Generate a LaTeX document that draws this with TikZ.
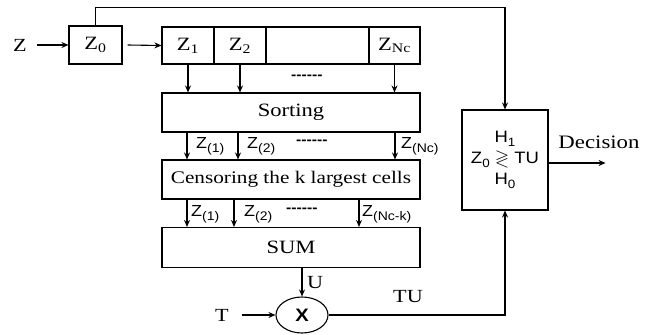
\documentclass[tikz,border=0pt]{standalone}
\usepackage{amssymb}
\usepackage{fontspec}
\setmainfont{Liberation Serif}[FakeStretch=1.2]
\newfontfamily\sff{Liberation Sans}[FakeStretch=1.12]
\usetikzlibrary{arrows.meta,shapes.geometric}
\newcommand{\lsub}[1]{\raisebox{-4pt}{\fontsize{12.5}{13}\selectfont #1}}
\newcommand{\hsub}[1]{\raisebox{-3.5pt}{\fontsize{12}{13}\selectfont #1}}
\tikzset{
  box/.style={draw, line width=1.1pt, inner sep=0pt, font=\fontsize{18.8}{20}\selectfont},
  cell/.style={box, minimum height=37pt},
  wide/.style={box, minimum width=258pt, minimum height=39pt},
  lab/.style={inner sep=1pt, font=\sff\fontsize{16}{18}\selectfont, anchor=west},
  dsh/.style={inner sep=1pt, font=\sff\bfseries\fontsize{14}{16}\selectfont, anchor=west},
  txt/.style={inner sep=1pt, font=\fontsize{18.5}{20}\selectfont},
  arr/.style={line width=1.1pt, -{Stealth[length=7pt,width=6pt]}},
  ln/.style={line width=1.1pt},
}
\begin{document}
\begin{tikzpicture}[x=1pt,y=-1pt]
\useasboundingbox (0,0) rectangle (657,335);
% input and Z0
\node[txt] (zin) at (20,45) {Z};
\node[cell, minimum width=53pt, minimum height=38pt] (z0) at (95.5,45) {Z\textsubscript{0}};
% register cells
\node[cell, minimum width=52pt] (c1) at (188,45.5) {Z\textsubscript{1}};
\node[cell, minimum width=52pt] (c2) at (240,45.5) {Z\textsubscript{2}};
\node[cell, minimum width=103pt] (c3) at (317.5,45.5) {};
\node[cell, minimum width=51pt] (c4) at (394.5,45.5) {Z\textsubscript{Nc}};
% blocks
\node[wide] (sort) at (291,112.5) {Sorting};
\node[wide, font=\fontsize{17.7}{19}\selectfont] (cens) at (291,179.5) {Censoring the k largest cells};
\node[wide, minimum height=40pt] (sum) at (291,247.5) {SUM};
% multiplier
\node[draw, ln, ellipse, minimum width=52pt, minimum height=36pt, inner sep=0pt,
      font=\sff\bfseries\fontsize{18}{19}\selectfont] (xn) at (302,315) {X};
\node[txt] (tin) at (222,315) {T};
% decision box
\node[box, minimum width=86pt, minimum height=100pt, align=center,
      font=\sff\fontsize{16.5}{21}\selectfont] (hb) at (505,160)
      {H\hsub{1}\\ Z\hsub{0} \smash{\fontsize{18.5}{18.5}\selectfont$\gtrless$} TU\\ H\hsub{0}};
% connectors
\draw[arr] (zin.east) ++(9,0) -- (z0.west);
\draw[arr] (z0.east) ++(5,0) -- (c1.west);
\draw[arr] (z0.north) -- ++(0,-18) -| (hb.north);
\draw[arr] (c1.south) -- (c1.south |- sort.north);
\draw[arr] (c2.south) -- (c2.south |- sort.north);
\draw[arr] (c4.south) -- (c4.south |- sort.north);
\node[dsh] (d1) at (290,77) {------};
% sorting -> censoring
\coordinate (s1) at (187,0);
\coordinate (s2) at (238,0);
\coordinate (s3) at (395,0);
\draw[arr] (s1 |- sort.south) -- (s1 |- cens.north);
\draw[arr] (s2 |- sort.south) -- (s2 |- cens.north);
\draw[arr] (s3 |- sort.south) -- (s3 |- cens.north);
\node[lab] (l1) at (195,146) {Z\lsub{(1)}};
\node[lab] (l2) at (246,146) {Z\lsub{(2)}};
\node[dsh] (d2) at (295,142) {------};
\node[lab] (l3) at (400,146) {Z\lsub{(Nc)}};
% censoring -> sum
\coordinate (t1) at (187,0);
\coordinate (t2) at (234,0);
\coordinate (t3) at (359,0);
\draw[arr] (t1 |- cens.south) -- (t1 |- sum.north);
\draw[arr] (t2 |- cens.south) -- (t2 |- sum.north);
\draw[arr] (t3 |- cens.south) -- (t3 |- sum.north);
\node[lab] (m1) at (190,214) {Z\lsub{(1)}};
\node[lab] (m2) at (243,214) {Z\lsub{(2)}};
\node[dsh] (d3) at (285,210) {------};
\node[lab] (m3) at (361,214) {Z\lsub{(Nc-k)}};
% sum -> X
\draw[arr] (sum.south -| xn.north) -- (xn.north);
\node[txt, anchor=west] (ul) at (306,283) {U};
\draw[arr] (tin.east) ++(12,0) -- (xn.west);
% X -> H box
\draw[arr] (xn.east) -| (hb.south);
\node[txt] (tul) at (408,297) {TU};
% decision
\draw[arr] ([yshift=-3pt]hb.east) -- ++(57,0) coordinate (dout);
\node[txt, font=\fontsize{19}{20}\selectfont] (dec) at (599,142) {Decision};
\end{tikzpicture}
\end{document}
